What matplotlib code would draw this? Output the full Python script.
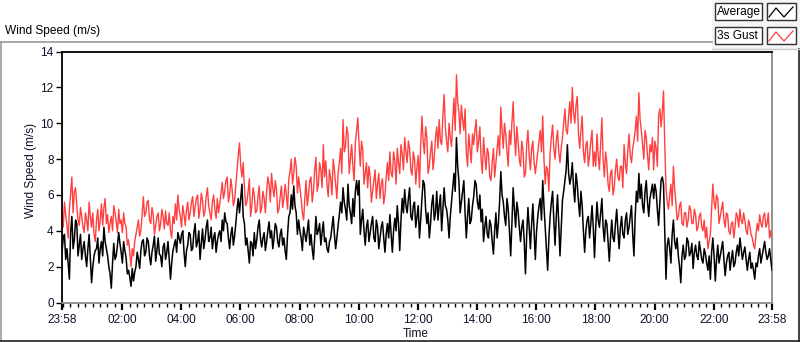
import numpy as np
import pandas as pd
import matplotlib
matplotlib.use("Agg")
import matplotlib.pyplot as plt
import matplotlib.dates as mdates
from matplotlib.lines import Line2D
from matplotlib.patches import Rectangle

plt.rcParams['font.family'] = ['Liberation Sans', 'DejaVu Sans']

# ---- data: 2.5-minute samples starting 23:58, in 2-hour blocks ----
start_time = "2020-01-01 23:58"
step_seconds = 150

average_blocks = [
    [2.8,3.6,3.8,2.4,3.0,2.2,1.3,3.9,4.8,3.0,3.5,4.6,4.4,2.6,3.2,3.8,2.4,3.0,3.4,2.6,2.0,3.0,3.8,2.4,
     1.1,2.0,2.6,2.9,3.0,3.6,2.2,3.0,3.4,2.6,4.2,3.4,3.0,2.6,2.0,1.6,0.8,2.2,3.3,2.4,2.6,3.2,3.9,3.3],
    [2.8,2.2,3.4,2.9,2.5,1.6,1.8,1.4,0.9,1.9,1.2,1.7,2.0,2.8,2.4,1.9,2.9,3.4,3.5,2.6,2.8,3.6,3.4,2.6,
     2.1,2.8,3.2,3.7,2.3,2.9,3.6,2.7,2.6,2.0,3.1,3.3,2.4,2.8,3.4,2.4,1.3,2.2,2.9,3.2,3.5,2.8,3.9,3.6],
    [3.3,3.8,4.0,2.8,2.0,2.9,3.2,3.9,3.8,2.9,3.0,3.9,4.4,3.1,3.4,4.0,2.4,3.3,4.1,3.0,3.5,4.2,4.6,3.4,
     3.6,4.2,3.0,3.6,3.9,2.8,3.4,3.8,4.0,3.4,4.6,4.0,5.0,4.5,4.4,3.6,3.0,3.8,4.2,3.2,3.7,4.4,5.2,5.8],
    [5.0,5.8,6.6,4.8,4.4,3.2,3.6,2.9,2.2,3.4,3.3,2.6,3.9,3.0,3.5,4.2,4.6,3.6,3.1,3.6,3.9,2.9,3.4,4.0,
     4.5,3.6,4.0,3.0,3.6,4.4,4.2,3.4,3.1,3.8,4.1,3.2,3.6,2.9,2.4,3.8,4.8,5.0,6.0,5.2,6.5,5.4,5.0,3.8],
    [4.6,4.0,3.6,2.9,4.2,3.8,3.4,4.0,4.6,3.2,3.8,3.0,2.4,3.6,4.8,3.8,4.0,4.4,3.2,3.9,4.5,3.4,3.6,3.0,
     2.8,3.4,3.6,4.2,4.8,3.8,3.0,3.6,4.3,4.9,5.6,5.0,6.4,5.6,5.2,4.6,6.6,5.4,5.0,4.4,5.8,4.8,6.2,6.8],
    [6.0,6.8,3.8,4.6,5.2,4.0,3.2,4.2,4.6,3.4,3.9,4.4,4.8,3.6,3.4,4.6,4.2,3.0,3.6,4.2,4.5,3.6,2.8,3.8,
     4.4,3.6,4.9,3.8,2.8,4.0,4.7,4.0,5.4,4.4,2.9,4.6,5.8,5.0,6.3,5.4,5.0,5.8,6.4,4.8,4.6,5.4,5.6,4.2],
    [4.8,5.4,3.6,4.6,5.8,6.8,6.6,5.2,4.4,5.0,3.6,4.4,5.5,6.0,4.6,5.0,6.2,4.6,5.4,6.0,4.0,5.2,6.4,5.4,
     5.2,4.6,3.6,4.8,5.6,6.4,7.2,6.2,9.2,7.6,6.8,5.0,5.6,6.2,6.8,5.0,3.6,4.8,5.8,4.4,4.6,5.4,5.9,6.8],
    [6.6,5.6,5.2,6.0,4.5,5.2,3.4,4.2,4.8,3.8,3.6,4.6,4.3,3.4,2.7,4.0,5.0,3.6,4.4,5.6,7.3,6.0,5.6,4.8,
     4.3,5.8,5.2,4.0,2.6,4.4,6.4,5.2,4.2,5.6,5.1,4.2,3.4,4.2,4.6,3.4,1.6,3.8,5.3,4.2,3.0,4.4,5.5,4.0],
    [2.4,4.0,4.8,5.4,5.8,4.6,6.8,5.4,4.2,3.0,1.8,3.6,4.8,5.6,6.2,4.6,3.2,4.8,6.0,4.4,2.6,4.2,5.7,6.2,
     6.8,7.4,8.8,7.2,6.6,7.0,7.8,6.4,5.6,7.2,6.6,5.6,4.8,6.2,5.4,4.0,2.8,4.0,4.6,4.8,3.6,4.4,5.4,4.2],
    [2.5,4.2,5.6,4.6,4.2,5.0,5.8,4.2,3.4,4.6,4.4,3.4,2.3,3.6,4.6,3.6,3.4,4.4,5.2,4.0,3.0,4.2,4.8,3.8,
     3.6,4.6,5.0,3.8,4.2,4.8,5.4,3.8,2.6,4.8,6.2,5.6,7.2,5.8,6.6,5.4,5.0,6.2,6.8,5.6,4.8,5.8,6.2,6.6],
    [5.8,6.6,6.2,5.2,4.3,5.6,6.8,7.0,6.6,4.0,1.3,3.2,3.6,3.0,2.2,3.8,4.6,3.4,3.0,3.6,2.6,2.0,1.1,2.6,
     3.2,2.4,2.6,3.6,3.4,2.6,2.8,3.3,1.9,2.8,3.2,2.6,2.4,3.4,2.9,2.4,2.2,3.0,2.7,2.2,1.8,2.6,1.3,2.8],
    [3.6,2.6,1.2,2.4,3.2,2.2,2.6,3.0,3.4,2.4,1.5,2.2,2.6,2.8,1.8,2.4,2.9,2.0,2.2,2.8,3.2,2.6,3.6,3.0,
     2.4,2.8,3.1,2.4,1.8,2.4,2.8,1.9,2.2,1.8,1.3,2.2,2.0,2.6,3.0,2.2,2.6,3.0,3.4,2.8,2.4,2.6,3.0,2.4,
     1.8],
]

gust_blocks = [
    [5.0,4.2,5.6,4.9,4.3,3.6,5.2,6.1,7.0,5.0,6.2,6.4,5.4,4.6,4.3,5.3,4.8,4.2,3.9,5.0,4.6,4.0,5.6,4.8,
     4.2,5.0,3.8,3.4,4.6,5.2,4.0,4.6,5.5,4.3,5.3,5.8,4.4,4.9,3.9,4.4,4.8,4.0,5.4,5.0,4.5,3.9,5.2,4.4],
    [4.6,3.9,5.0,4.4,4.2,3.2,3.5,2.8,2.0,3.0,2.6,3.4,3.8,4.2,4.6,3.7,4.0,4.9,5.9,4.8,5.0,5.6,5.7,4.6,
     4.4,5.3,4.9,3.8,4.3,4.8,5.0,4.0,4.4,5.2,4.8,4.1,5.1,4.4,4.3,5.0,4.0,3.6,4.8,4.4,5.5,4.6,6.0,5.2],
    [4.8,4.2,5.4,4.9,4.3,5.2,5.6,4.6,5.0,5.6,5.9,4.8,5.3,5.8,6.0,4.7,5.2,6.1,5.7,4.8,5.1,5.9,6.4,5.4,
     5.0,4.6,5.6,6.0,5.2,4.7,5.8,5.0,5.5,6.1,6.7,5.8,6.2,6.8,7.0,5.6,6.0,6.9,6.3,5.4,5.7,6.5,7.4,8.2],
    [8.9,7.6,7.0,7.8,6.4,5.4,5.6,6.2,6.9,4.8,5.4,6.4,6.0,5.0,5.1,5.9,6.5,5.0,5.3,6.2,5.8,5.0,6.2,7.0,
     6.6,5.6,7.2,6.4,5.9,6.8,6.3,5.0,5.2,5.9,6.5,5.3,5.8,6.6,6.0,5.2,6.9,7.3,8.0,6.6,7.2,8.1,7.6,6.1],
    [7.0,6.4,5.8,5.0,4.6,5.8,6.8,5.4,6.0,6.8,7.0,5.6,6.2,7.4,8.1,6.2,6.6,7.8,7.4,6.4,8.8,7.0,7.9,6.6,
     5.9,7.4,6.9,6.0,8.0,7.4,6.6,5.8,7.2,7.8,8.6,7.2,10.2,8.4,8.7,9.8,9.4,7.2,8.0,8.8,7.6,6.8,8.9,9.6],
    [10.3,8.8,7.6,9.0,8.5,6.6,7.2,7.8,6.4,7.6,7.0,5.6,6.2,6.8,7.4,5.8,6.6,7.2,5.8,6.6,6.9,5.5,6.0,7.0,
     7.8,6.8,8.4,7.2,7.0,8.4,7.9,6.6,8.6,7.8,7.2,8.8,8.3,7.4,9.2,8.4,7.8,9.0,8.6,7.4,7.1,8.4,8.0,6.6],
    [7.6,8.2,6.4,8.8,10.4,9.0,8.3,9.8,9.2,7.2,7.6,8.4,9.0,7.4,8.1,9.2,9.8,8.6,10.2,9.0,8.8,10.4,11.6,9.8,
     9.0,8.4,10.0,9.2,8.7,10.2,11.4,9.6,12.7,11.2,10.6,9.4,11.0,10.2,9.6,10.8,8.4,7.6,9.4,8.6,7.8,9.4,8.8,9.6],
    [10.2,8.4,9.0,9.8,8.0,7.2,9.2,8.2,7.4,8.6,8.3,7.0,6.8,7.8,8.6,7.0,7.8,8.6,9.3,8.2,10.9,9.6,8.6,10.0,
     9.4,8.4,7.6,9.6,8.8,10.0,11.2,9.4,8.2,9.8,9.0,8.0,7.6,9.0,8.5,7.0,7.2,8.8,9.6,8.2,7.4,8.6,9.0,7.8],
    [7.2,7.8,8.4,9.0,9.6,8.4,10.4,8.0,6.6,7.6,7.4,6.2,8.4,9.2,9.9,8.6,8.0,9.0,9.6,8.4,7.8,8.6,9.2,10.0,
     10.8,9.6,9.4,10.4,11.2,10.0,12.0,10.6,10.0,11.0,11.5,9.4,8.6,9.6,10.4,8.4,7.8,8.8,9.0,7.6,8.2,9.0,9.6,7.6],
    [8.4,7.6,9.4,8.2,7.4,8.8,10.3,8.0,7.0,8.4,7.8,6.6,6.2,7.2,7.4,6.0,6.4,7.4,8.0,7.0,6.8,7.6,7.6,6.4,
     8.8,7.8,7.2,8.4,9.4,8.2,7.8,8.6,9.0,9.6,10.4,9.0,11.7,10.2,9.6,8.8,8.0,9.6,9.2,8.2,7.4,8.8,8.4,9.2],
    [7.4,9.0,8.6,7.6,10.4,10.8,9.8,10.6,11.8,8.8,6.4,5.6,5.2,6.0,6.6,5.4,7.6,6.4,5.6,4.6,4.8,5.4,5.6,4.4,
     4.3,5.0,5.0,4.2,4.6,5.4,5.2,4.4,4.4,5.2,4.9,4.0,4.2,4.8,5.0,4.2,4.0,4.6,3.6,4.2,3.0,3.4,3.8,5.2],
    [6.6,5.6,5.2,6.0,5.8,4.4,4.8,5.2,5.6,4.6,4.2,5.0,4.9,4.0,3.8,4.4,4.5,3.6,4.2,5.0,4.8,4.2,5.2,4.6,
     4.4,5.0,4.6,4.0,3.8,4.6,4.3,3.8,3.6,3.2,3.0,3.8,4.4,4.0,4.9,4.4,4.2,4.8,5.0,4.2,4.4,5.0,3.6,4.0,
     3.4],
]

series_names = ["Average", "3s Gust"]
y_ticks = [0, 2, 4, 6, 8, 10, 12, 14]

for i, (a, g) in enumerate(zip(average_blocks, gust_blocks)):
    if len(a) != len(g):
        raise ValueError(f"block {i}: avg {len(a)} gust {len(g)}")

average = [v for b in average_blocks for v in b]
gust_3s = [v for b in gust_blocks for v in b]

# ---- figure ----
W, H = 800, 342
fig = plt.figure(figsize=(W / 100, H / 100), dpi=100)
fig.patch.set_facecolor("white")

def fx(x):
    return x / W

def fy(y):
    return 1 - y / H

ax_l, ax_r, ax_t, ax_b = 62, 772, 51.5, 302.5
ax = fig.add_axes([fx(ax_l), fy(ax_b), fx(ax_r - ax_l), (ax_b - ax_t) / H])

t0 = pd.Timestamp(start_time)
t_end = t0 + pd.Timedelta(days=1)
times_avg = t0 + pd.to_timedelta(np.arange(len(average)) * step_seconds, unit="s")
times_gust = t0 + pd.to_timedelta(np.arange(len(gust_3s)) * step_seconds, unit="s")

ax.plot(times_gust, gust_3s, color="#ff4040", lw=1.0, zorder=2)
ax.plot(times_avg, average, color="black", lw=1.1, zorder=3)

ax.set_xlim(t0, t_end)
ax.set_ylim(0, 14)
ax.set_yticks(y_ticks)
ax.set_yticklabels([str(v) for v in y_ticks])

major = [t0] + [pd.Timestamp("2020-01-02") + pd.Timedelta(hours=h) for h in range(2, 24, 2)] + [t_end]
ax.set_xticks([mdates.date2num(t) for t in major])
ax.xaxis.set_major_formatter(mdates.DateFormatter("%H:%M"))
ax.xaxis.set_minor_locator(mdates.MinuteLocator(byminute=[0, 15, 30, 45]))

tick_col = "#101028"
ax.tick_params(axis="x", which="major", direction="out", length=5, width=1.6,
               colors="black", labelcolor=tick_col, labelsize=8.5, pad=3)
ax.tick_params(axis="x", which="minor", direction="out", length=3, width=1.0, colors="black")
ax.tick_params(axis="y", which="major", direction="out", length=4, width=1.0,
               colors="black", labelcolor=tick_col, labelsize=8.5, pad=2)

for s in ["top", "left"]:
    ax.spines[s].set_color("black")
    ax.spines[s].set_linewidth(1.3)
for s in ["bottom", "right"]:
    ax.spines[s].set_color("#8a8a8a")
    ax.spines[s].set_linewidth(1.3)

fig.text(fx(31), fy(170), "Wind Speed (m/s)", rotation=90, ha="center", va="center",
         fontsize=8.6, color=tick_col)
fig.text(fx(416), fy(334), "Time", ha="center", va="center", fontsize=8.6, color=tick_col)
fig.text(fx(5), fy(31), "Wind Speed (m/s)", ha="left", va="center", fontsize=8.6, color="black")

# outer frame
def fline(x0, y0, x1, y1, color, lw=1.0):
    fig.add_artist(Line2D([fx(x0), fx(x1)], [fy(y0), fy(y1)], color=color, lw=lw,
                          transform=fig.transFigure))

fline(0, 42, 712, 42, "#9a9a9a", 1.2)
fline(1, 42, 1, 341, "#9a9a9a", 1.2)
fline(0, 341, 800, 341, "#202020", 1.2)
fline(799, 49, 799, 342, "#202020", 1.2)
fline(712, 49, 800, 49, "#c8c8c8", 1.0)

# legend panel
fig.add_artist(Rectangle((fx(712), fy(49)), fx(88), 49 / H, transform=fig.transFigure,
                         facecolor="#f4f4f4", edgecolor="none", zorder=0))
leg_colors = ["black", "#ff4040"]
for i, (name, col) in enumerate(zip(series_names, leg_colors)):
    top = 3 + i * 24
    fig.add_artist(Rectangle((fx(715), fy(top + 17)), fx(47), 17 / H, transform=fig.transFigure,
                             facecolor="white", edgecolor="#303030", lw=1.0))
    fig.add_artist(Rectangle((fx(767), fy(top + 17)), fx(29), 17 / H, transform=fig.transFigure,
                             facecolor="white", edgecolor="#303030", lw=1.0))
    zx = [769, 776, 784, 793]
    zy = [top + 14, top + 5, top + 14, top + 4]
    fig.add_artist(Line2D([fx(v) for v in zx], [fy(v) for v in zy], color=col, lw=0.9,
                          transform=fig.transFigure))
    fig.text(fx(717), fy(top + 9), name, ha="left", va="center", fontsize=8.6, color="black")

fig.savefig("out.png", dpi=100)
